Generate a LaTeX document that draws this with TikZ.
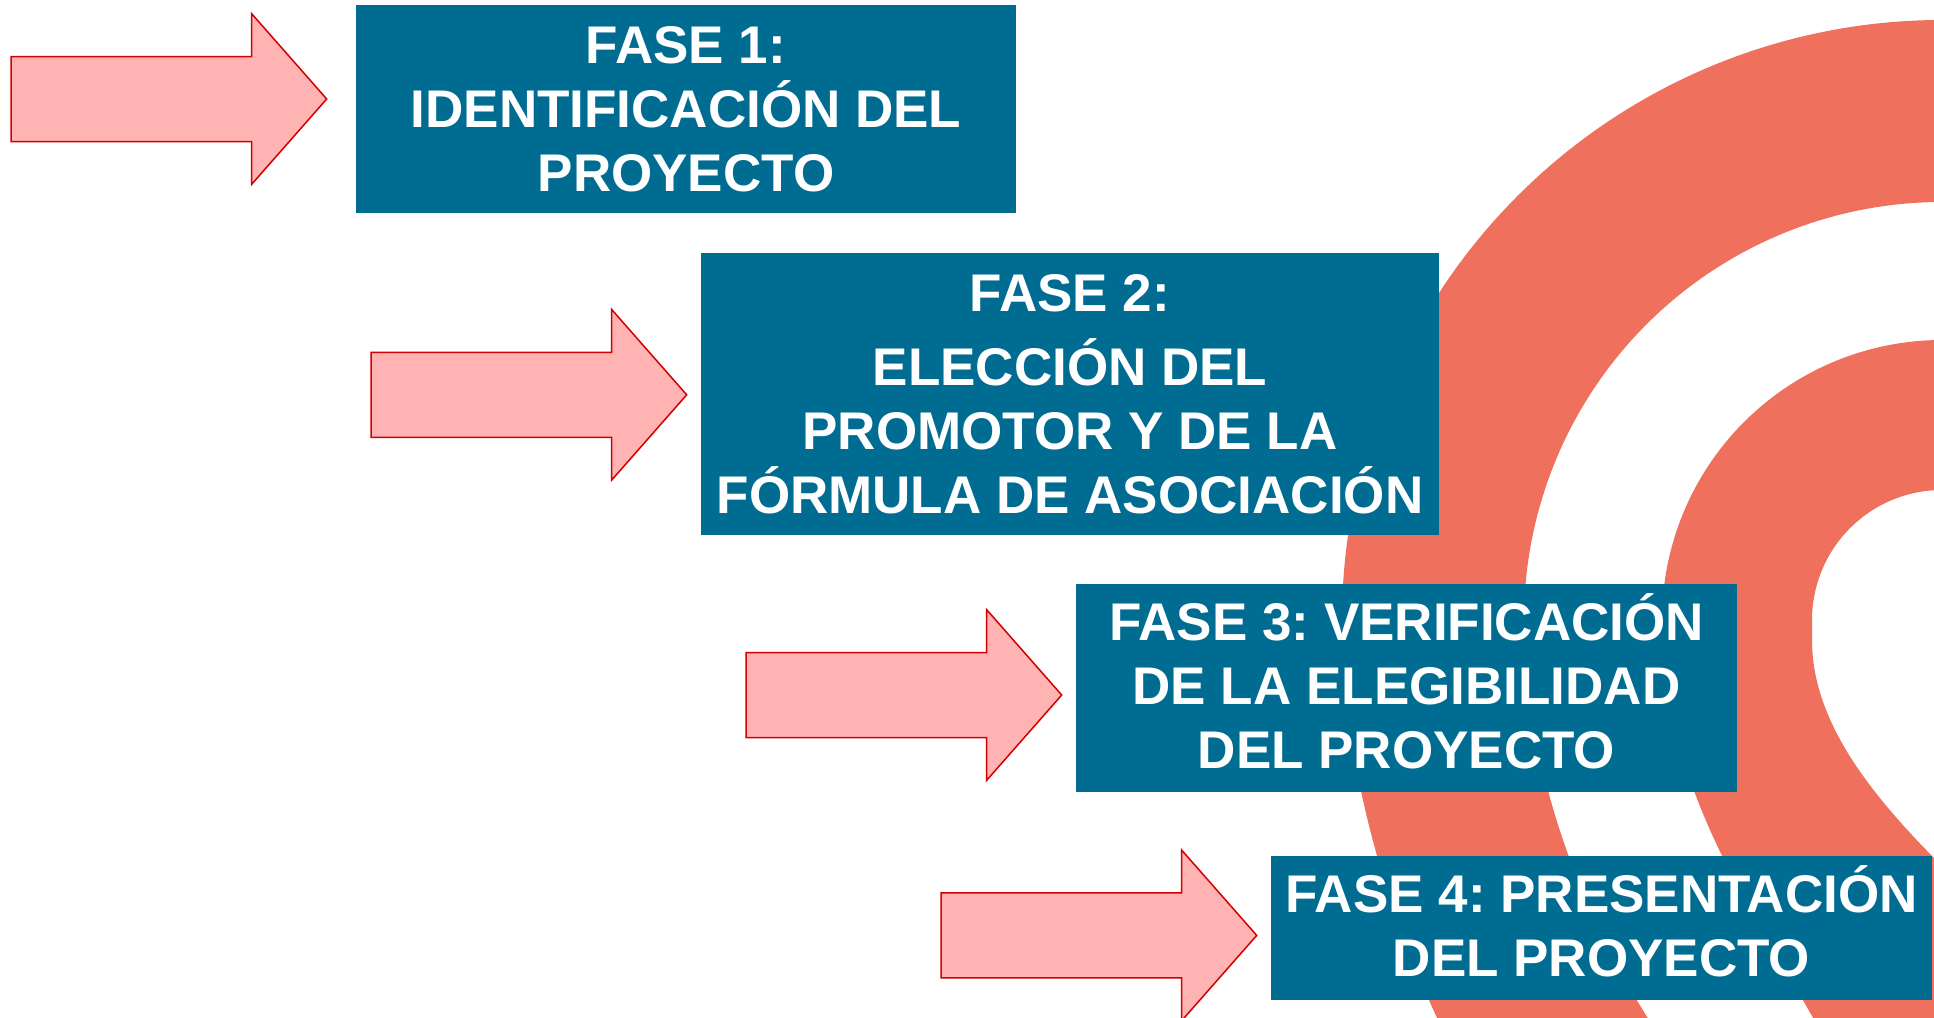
\documentclass[tikz,border=0pt]{standalone}
\usepackage{fontspec}
\setmainfont{Liberation Sans}
\frenchspacing
\definecolor{boxblue}{RGB}{0,108,145}
\definecolor{salmon}{RGB}{240,112,94}
\definecolor{arrowfill}{RGB}{255,179,179}
\definecolor{arrowline}{RGB}{210,0,0}
\tikzset{
  phasebox/.style={fill=boxblue, text=white, inner sep=0pt, align=center,
    font=\fontsize{53bp}{64bp}\selectfont\bfseries},
  arrowstyle/.style={fill=arrowfill, draw=arrowline, line width=1.5bp, line join=miter},
  blockarrow/.pic={\draw[arrowstyle] (0,-42.5) -- (240.5,-42.5) -- (240.5,-85.5) -- (315.7,0)
     -- (240.5,85.5) -- (240.5,42.5) -- (0,42.5) -- cycle;}
}
\begin{document}
\begin{tikzpicture}[x=1bp,y=-1bp]
\useasboundingbox (0,0) rectangle (1934,1017);
\begin{scope}
\clip (0,0) rectangle (1934,1017);
% outer band
\fill[salmon] (1942,620) ++(-80:600) arc[start angle=-80, end angle=-180, radius=600]
  .. controls (1342,760) and (1385,920) .. (1460,1065) -- (1680,1065)
  .. controls (1580,930) and (1524,760) .. (1524,620)
  arc[start angle=-180, end angle=-80, radius=418] -- cycle;
% inner band
\fill[salmon] (1942,620) ++(-75:280) arc[start angle=-75, end angle=-180, radius=280]
  .. controls (1662,730) and (1700,830) .. (1780,960) -- (1840,1065) -- (2100,1065)
  -- (2100,930) -- (2010,930)
  .. controls (1900,830) and (1812,740) .. (1812,640) -- (1812,620)
  arc[start angle=-180, end angle=-75, radius=130] -- cycle;
\end{scope}
% arrows
\pic (a1) at (11,99) {blockarrow};
\pic (a2) at (371,394.8) {blockarrow};
\pic (a3) at (746,695) {blockarrow};
\pic (a4) at (941,935.4) {blockarrow};
% boxes
\node[phasebox, minimum width=660bp, minimum height=207.7bp] (f1) at (686,108.9)
  {FASE 1:\\IDENTIFICACIÓN DEL\\PROYECTO};
\node[phasebox, minimum width=738bp, minimum height=281.7bp] (f2) at (1070,393.85)
  {FASE 2:\\[10bp]ELECCIÓN DEL\\PROMOTOR Y DE LA\\FÓRMULA DE ASOCIACIÓN};
\node[phasebox, minimum width=661bp, minimum height=207.7bp] (f3) at (1406.5,687.85)
  {FASE 3: VERIFICACIÓN\\DE LA ELEGIBILIDAD\\DEL PROYECTO\rule[-14bp]{0pt}{0pt}};
\node[phasebox, minimum width=661bp, minimum height=143.7bp] (f4) at (1601.5,927.85)
  {FASE 4: PRESENTACIÓN\\DEL PROYECTO\rule[-14bp]{0pt}{0pt}};
\end{tikzpicture}
\end{document}
